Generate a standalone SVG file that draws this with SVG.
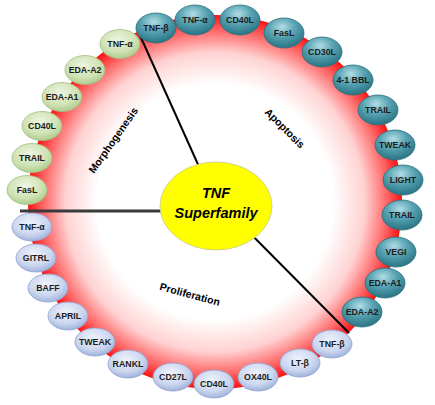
<svg xmlns="http://www.w3.org/2000/svg" width="435" height="405" viewBox="0 0 435 405">
<defs>
<radialGradient id="ringGrad" cx="215" cy="202" r="187" gradientUnits="userSpaceOnUse">
<stop offset="0" stop-color="#ffffff"/>
<stop offset="0.63" stop-color="#ffffff"/>
<stop offset="0.8" stop-color="#ffd2d2"/>
<stop offset="0.93" stop-color="#ff5c5c"/>
<stop offset="1" stop-color="#ff1010"/>
</radialGradient>
<radialGradient id="teal" cx="0.45" cy="0.3" r="0.75">
<stop offset="0" stop-color="#b2dde6"/>
<stop offset="0.45" stop-color="#56a2b2"/>
<stop offset="1" stop-color="#236d7c"/>
</radialGradient>
<radialGradient id="green" cx="0.45" cy="0.35" r="0.7">
<stop offset="0" stop-color="#eef6e2"/>
<stop offset="0.6" stop-color="#cfe2b4"/>
<stop offset="1" stop-color="#a8c888"/>
</radialGradient>
<radialGradient id="blue" cx="0.45" cy="0.35" r="0.7">
<stop offset="0" stop-color="#eef2fb"/>
<stop offset="0.6" stop-color="#cbd6ef"/>
<stop offset="1" stop-color="#98acd8"/>
</radialGradient>
</defs>
<style>
.t{stroke:#2a6f7c;stroke-width:0.8;fill:url(#teal)}
.g{stroke:#9fbf80;stroke-width:0.8;fill:url(#green)}
.b{stroke:#8fa3cf;stroke-width:0.8;fill:url(#blue)}
.n{font-family:"Liberation Sans",Arial,sans-serif;font-weight:bold;font-size:8.8px;fill:#1c1c1c;text-anchor:middle;dominant-baseline:central}
.lab{font-family:"Liberation Sans",Arial,sans-serif;font-weight:bold;font-size:10.5px;fill:#000;text-anchor:middle;dominant-baseline:central}
.c{font-family:"Liberation Sans",Arial,sans-serif;font-weight:bold;font-style:italic;font-size:14.5px;fill:#000;text-anchor:middle;dominant-baseline:central}
.ln{stroke:#000;stroke-width:2;fill:none}
</style>
<circle cx="215" cy="202" r="187" fill="url(#ringGrad)"/>
<g id="connectors">
<line class="ln" x1="138" y1="31" x2="205" y2="180"/>
<line x1="20" y1="211" x2="175" y2="211" stroke="#3a3a3a" stroke-width="3"/>
<line class="ln" x1="230" y1="213" x2="349" y2="333"/>
</g>
<text class="lab" transform="translate(113,140) rotate(-55)">Morphogenesis</text>
<text class="lab" transform="translate(285,128) rotate(45)">Apoptosis</text>
<text class="lab" transform="translate(190,294) rotate(15)">Proliferation</text>
<g id="center">
<ellipse cx="216" cy="206" rx="56" ry="44" fill="#ffff00" stroke="#c8c8a0" stroke-width="0.8"/>
<text class="c" x="216" y="193">TNF</text>
<text class="c" x="216" y="213">Superfamily</text>
</g>
<g id="m1"><ellipse class="g" cx="120" cy="44" rx="20" ry="14.5"/><text class="n" x="120" y="44">TNF-α</text></g>
<g id="m2"><ellipse class="g" cx="85" cy="70" rx="20" ry="14.5"/><text class="n" x="85" y="70">EDA-A2</text></g>
<g id="m3"><ellipse class="g" cx="62" cy="97" rx="20" ry="14.5"/><text class="n" x="62" y="97">EDA-A1</text></g>
<g id="m4"><ellipse class="g" cx="42" cy="126" rx="20" ry="14.5"/><text class="n" x="42" y="126">CD40L</text></g>
<g id="m5"><ellipse class="g" cx="32" cy="158" rx="20" ry="14.5"/><text class="n" x="32" y="158">TRAIL</text></g>
<g id="m6"><ellipse class="g" cx="27" cy="190" rx="20" ry="14.5"/><text class="n" x="27" y="190">FasL</text></g>
<g id="a1"><ellipse class="t" cx="156" cy="28" rx="20" ry="15"/><text class="n" x="156" y="28">TNF-β</text></g>
<g id="a2"><ellipse class="t" cx="195" cy="20" rx="20" ry="15"/><text class="n" x="195" y="20">TNF-α</text></g>
<g id="a3"><ellipse class="t" cx="240" cy="20" rx="20" ry="15"/><text class="n" x="240" y="20">CD40L</text></g>
<g id="a4"><ellipse class="t" cx="284" cy="33" rx="20" ry="15"/><text class="n" x="284" y="33">FasL</text></g>
<g id="a5"><ellipse class="t" cx="322" cy="52" rx="20" ry="15"/><text class="n" x="322" y="52">CD30L</text></g>
<g id="a6"><ellipse class="t" cx="353" cy="80" rx="20" ry="15"/><text class="n" x="353" y="80">4-1 BBL</text></g>
<g id="a7"><ellipse class="t" cx="378" cy="110" rx="20" ry="15"/><text class="n" x="378" y="110">TRAIL</text></g>
<g id="a8"><ellipse class="t" cx="395" cy="145" rx="20" ry="15"/><text class="n" x="395" y="145">TWEAK</text></g>
<g id="a9"><ellipse class="t" cx="403" cy="180" rx="20" ry="15"/><text class="n" x="403" y="180">LIGHT</text></g>
<g id="a10"><ellipse class="t" cx="402" cy="215" rx="20" ry="15"/><text class="n" x="402" y="215">TRAIL</text></g>
<g id="a11"><ellipse class="t" cx="396" cy="252" rx="20" ry="15"/><text class="n" x="396" y="252">VEGI</text></g>
<g id="a12"><ellipse class="t" cx="385" cy="283" rx="20" ry="15"/><text class="n" x="385" y="283">EDA-A1</text></g>
<g id="a13"><ellipse class="t" cx="362" cy="312" rx="20" ry="15"/><text class="n" x="362" y="312">EDA-A2</text></g>
<g id="p1"><ellipse class="b" cx="32" cy="227" rx="20" ry="14"/><text class="n" x="32" y="227">TNF-α</text></g>
<g id="p2"><ellipse class="b" cx="36" cy="258" rx="20" ry="14"/><text class="n" x="36" y="258">GITRL</text></g>
<g id="p3"><ellipse class="b" cx="48" cy="288" rx="20" ry="14"/><text class="n" x="48" y="288">BAFF</text></g>
<g id="p4"><ellipse class="b" cx="68" cy="316" rx="20" ry="14"/><text class="n" x="68" y="316">APRIL</text></g>
<g id="p5"><ellipse class="b" cx="95" cy="342" rx="20" ry="14"/><text class="n" x="95" y="342">TWEAK</text></g>
<g id="p6"><ellipse class="b" cx="128" cy="364" rx="20" ry="14"/><text class="n" x="128" y="364">RANKL</text></g>
<g id="p7"><ellipse class="b" cx="173" cy="377" rx="20" ry="14"/><text class="n" x="173" y="377">CD27L</text></g>
<g id="p8"><ellipse class="b" cx="214" cy="384" rx="20" ry="14"/><text class="n" x="214" y="384">CD40L</text></g>
<g id="p9"><ellipse class="b" cx="258" cy="377" rx="20" ry="14"/><text class="n" x="258" y="377">OX40L</text></g>
<g id="p10"><ellipse class="b" cx="300" cy="363" rx="20" ry="14"/><text class="n" x="300" y="363">LT-β</text></g>
<g id="p11"><ellipse class="b" cx="332" cy="344" rx="20" ry="14"/><text class="n" x="332" y="344">TNF-β</text></g>
</svg>
